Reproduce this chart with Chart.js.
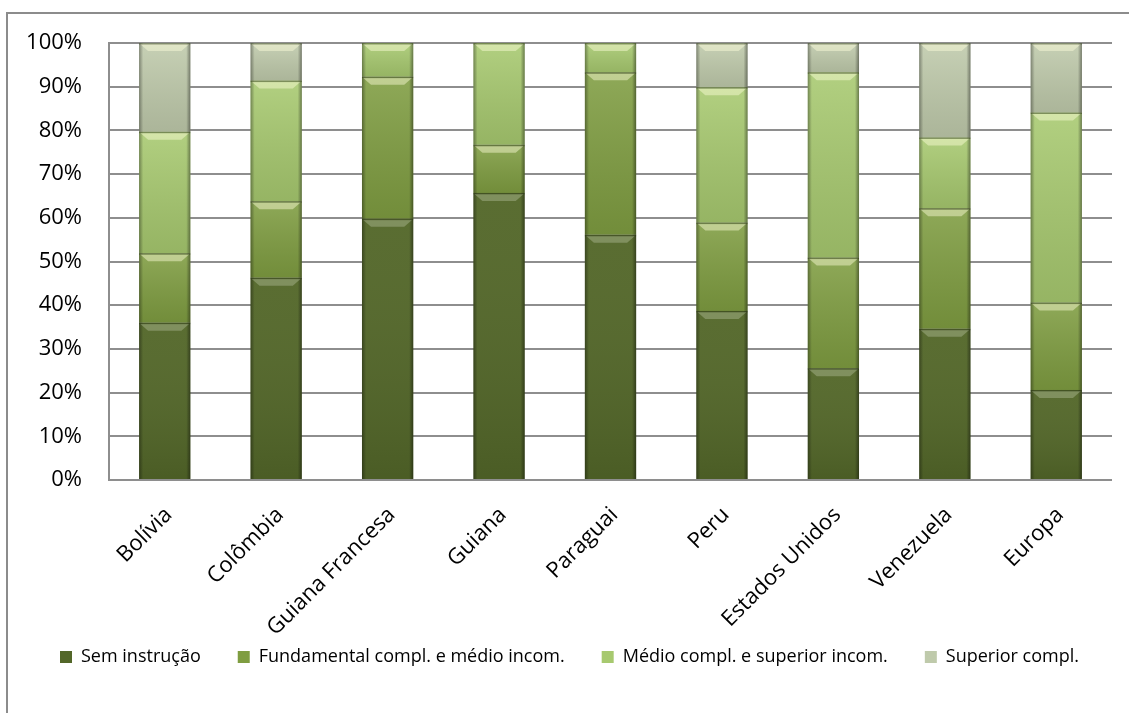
<!DOCTYPE html>
<html lang="pt">
<head>
<meta charset="utf-8">
<title>Escolaridade por origem</title>
<script src="https://cdn.jsdelivr.net/npm/chart.js@4.4.1/dist/chart.umd.min.js"></script>
<style>
    html, body { margin: 0; padding: 0; background: #ffffff; }
    #wrap { position: relative; width: 1129px; height: 713px; overflow: hidden; }
    #frame {
        position: absolute; left: 6px; top: 12px; width: 1200px; height: 800px;
        border-left: 2px solid #8c8c8c; border-top: 2px solid #8c8c8c;
        pointer-events: none;
    }
    canvas { position: absolute; left: 0; top: 0; }
</style>
</head>
<body>
<div id="wrap">
    <div id="frame"></div>
    <canvas id="chart" width="1129" height="713"></canvas>
</div>
<script>
// Dados (percentagens)
const categorias = ["Bolívia", "Colômbia", "Guiana Francesa", "Guiana", "Paraguai", "Peru", "Estados Unidos", "Venezuela", "Europa"];
const semInstrucao = [36.0, 46.3, 59.8, 65.7, 56.1, 38.7, 25.6, 34.6, 20.6];
const fundamental  = [15.9, 17.5, 32.5, 11.0, 37.2, 20.2, 25.3, 27.6, 20.0];
const medio        = [27.8, 27.6,  7.7, 23.3,  6.7, 31.0, 42.4, 16.2, 43.5];
const superior     = [20.3,  8.6,  0.0,  0.0,  0.0, 10.1,  6.7, 21.6, 15.9];
const ticksY = [0, 10, 20, 30, 40, 50, 60, 70, 80, 90, 100];

const FONTE = "'Open Sans', 'Liberation Sans', sans-serif";

// Efeito de relevo nas barras (como no Excel)
const bevelPlugin = {
    id: "bevel",
    afterDatasetsDraw(chart) {
        const ctx = chart.ctx;
        chart.data.datasets.forEach((ds, i) => {
            const meta = chart.getDatasetMeta(i);
            meta.data.forEach(bar => {
                const w = bar.width;
                const left = bar.x - w / 2, right = bar.x + w / 2;
                const top = Math.min(bar.y, bar.base), bottom = Math.max(bar.y, bar.base);
                const h = bottom - top;
                if (h < 1) return;
                ctx.save();

                // sombreamento vertical
                const gv = ctx.createLinearGradient(0, top, 0, bottom);
                gv.addColorStop(0, i === 0 ? "rgba(255,255,255,0.04)" : "rgba(255,255,255,0.12)");
                gv.addColorStop(1, "rgba(0,0,0,0.10)");
                ctx.fillStyle = gv;
                ctx.fillRect(left, top, w, h);

                // bordas laterais mais escuras
                const gh = ctx.createLinearGradient(left, 0, right, 0);
                gh.addColorStop(0, "rgba(0,0,0,0.35)");
                gh.addColorStop(0.08, "rgba(0,0,0,0)");
                gh.addColorStop(0.92, "rgba(0,0,0,0)");
                gh.addColorStop(1, "rgba(0,0,0,0.40)");
                ctx.fillStyle = gh;
                ctx.fillRect(left, top, w, h);

                // chanfro superior
                const b = Math.min(8, h / 2);
                ctx.beginPath();
                ctx.moveTo(left + 1, top + 1);
                ctx.lineTo(right - 1, top + 1);
                ctx.lineTo(right - b - 1, top + b);
                ctx.lineTo(left + b + 1, top + b);
                ctx.closePath();
                ctx.fillStyle = i === 0 ? "rgba(200,210,180,0.35)" : "rgba(255,255,220,0.45)";
                ctx.fill();

                // linha escura no topo
                ctx.fillStyle = "rgba(40,50,20,0.45)";
                ctx.fillRect(left, top, w, 1.5);
                ctx.restore();
            });
        });
    }
};

// desloca a legenda para a posição do original
const legendShift = {
    id: "legendShift",
    afterLayout(chart) {
        const lg = chart.legend;
        if (!lg) return;
        lg.left += 23;
        lg.right += 23;
        lg.top -= 29;
        lg.bottom -= 29;
    }
};

function init() {
    const ctx = document.getElementById("chart").getContext("2d");
    new Chart(ctx, {
        type: "bar",
        data: {
            labels: categorias,
            datasets: [
                { label: "Sem instrução", data: semInstrucao, backgroundColor: "#536729" },
                { label: "Fundamental compl. e médio incom.", data: fundamental, backgroundColor: "#7F9D41" },
                { label: "Médio compl. e superior incom.", data: medio, backgroundColor: "#A7C96F" },
                { label: "Superior compl.", data: superior, backgroundColor: "#BFCAAB" }
            ]
        },
        options: {
            responsive: false,
            animation: false,
            devicePixelRatio: 1,
            layout: { padding: { top: 43, right: 17, bottom: 8, left: 0 } },
            datasets: { bar: { barPercentage: 0.46, categoryPercentage: 1.0, borderWidth: 0 } },
            plugins: {
                tooltip: { enabled: false },
                legend: {
                    position: "bottom",
                    align: "start",
                    labels: {
                        boxWidth: 12, boxHeight: 12, padding: 37,
                        color: "#000000",
                        font: { family: FONTE, size: 18 }
                    }
                }
            },
            scales: {
                x: {
                    stacked: true,
                    grid: { display: false, drawTicks: false },
                    border: { display: false },
                    ticks: {
                        autoSkip: false, minRotation: 45, maxRotation: 45, padding: 22,
                        labelOffset: 4,
                        color: "#000000", font: { family: FONTE, size: 22 }
                    },
                    afterFit(scale) { scale.height = 160; }
                },
                y: {
                    stacked: true,
                    min: 0, max: 100,
                    afterBuildTicks(scale) { scale.ticks = ticksY.map(v => ({ value: v })); },
                    grid: { color: "#8e8e8e", lineWidth: 2, drawTicks: false },
                    border: { display: true, color: "#8e8e8e", width: 2 },
                    ticks: {
                        padding: 27, color: "#000000",
                        font: { family: FONTE, size: 22 },
                        callback: v => v + "%"
                    },
                    afterFit(scale) { scale.width = 109; }
                }
            }
        },
        plugins: [bevelPlugin, legendShift]
    });
}

window.addEventListener("DOMContentLoaded", init);
</script>
</body>
</html>
